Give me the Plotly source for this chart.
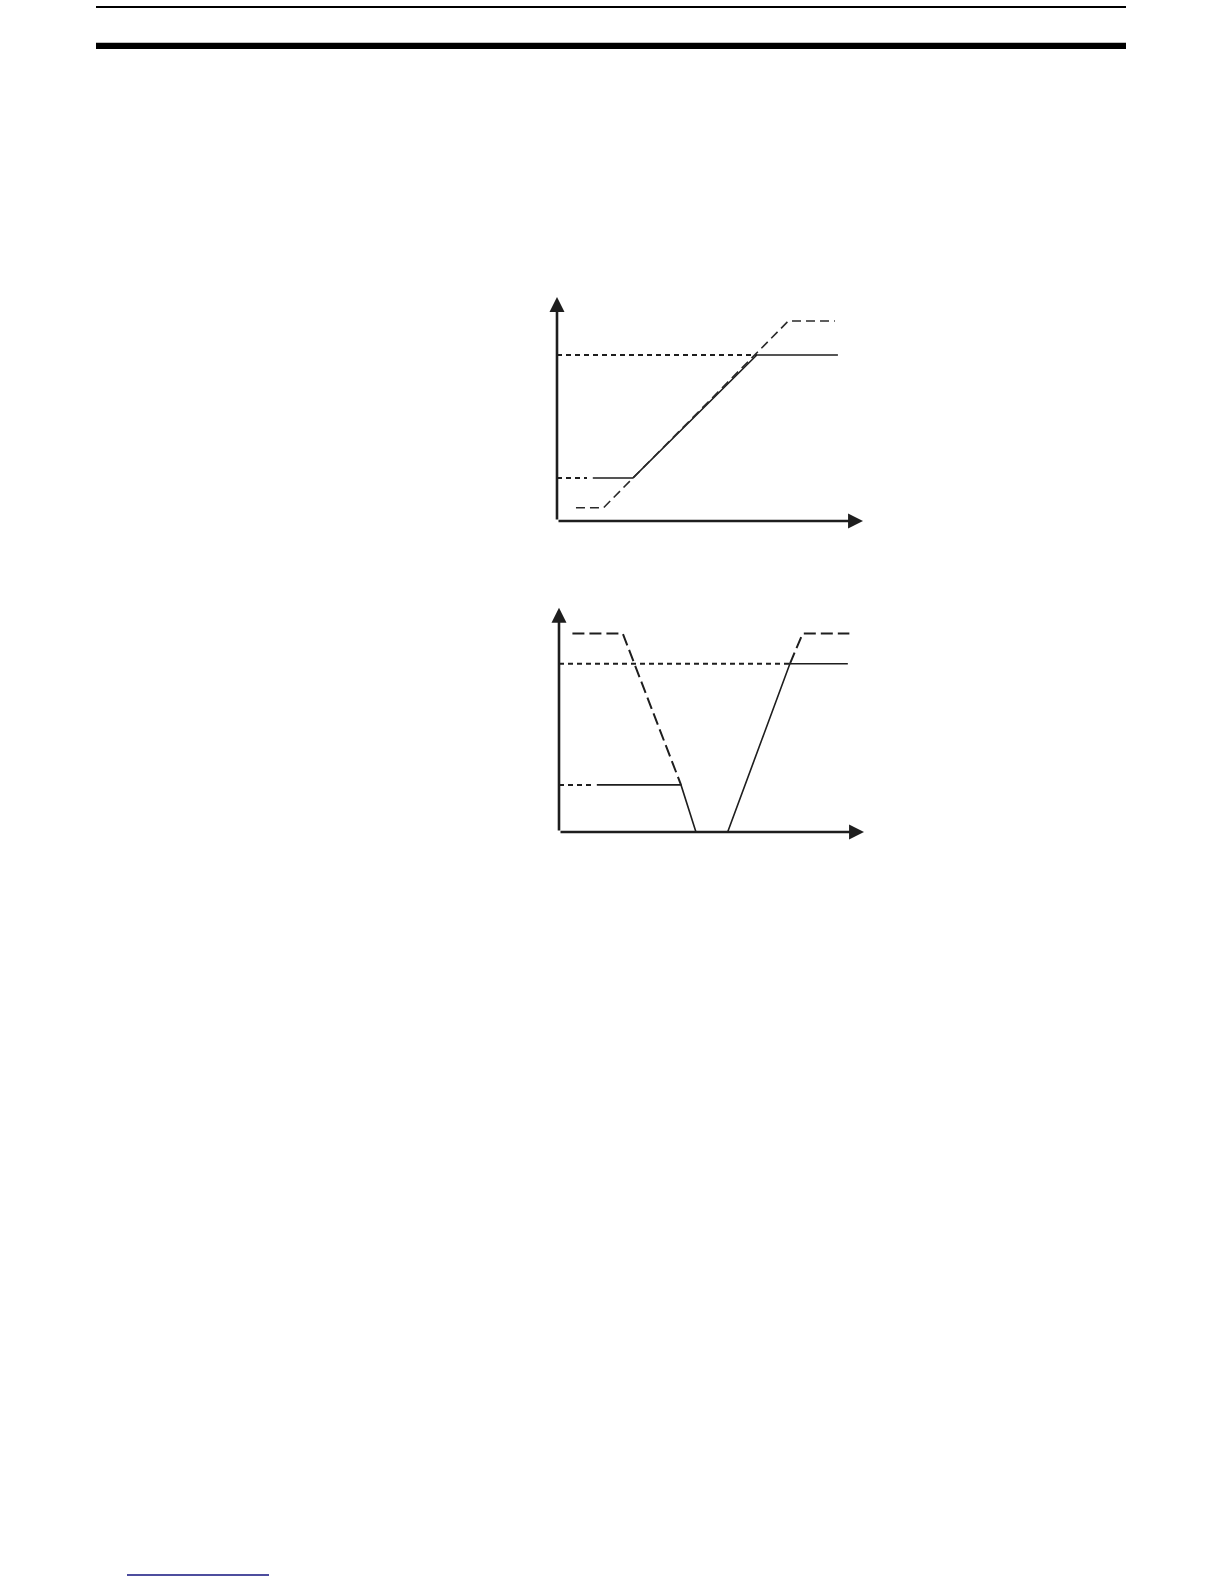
import plotly.graph_objects as go

# ---------------- data (axis units 0..100) ----------------
# Upper diagram
top_ref_high_x = [0, 65.3]
top_ref_high_y = [74.1, 74.1]
top_ref_low_x = [0, 9.8]
top_ref_low_y = [19.2, 19.2]
top_solid_x = [11.7, 24.8, 65.3, 91.8]
top_solid_y = [19.2, 19.2, 74.1, 74.1]
top_dashed_x = [6.2, 15.2, 75.6, 90.8]
top_dashed_y = [5.9, 5.9, 89.3, 89.3]

# Lower diagram
bot_ref_high_x = [0, 75.7]
bot_ref_high_y = [75.0, 75.0]
bot_ref_low_x = [0, 10.7]
bot_ref_low_y = [21.0, 21.0]
bot_solid_x = [12.4, 40.0, 44.9, 55.3, 75.7, 94.7]
bot_solid_y = [21.0, 21.0, 0, 0, 75.0, 75.0]
bot_dashed_left_x = [4.4, 20.9, 40.0]
bot_dashed_left_y = [88.5, 88.5, 21.0]
bot_dashed_right_x = [75.7, 79.9, 95.2]
bot_dashed_right_y = [75.0, 88.5, 88.5]

W, H = 1224, 1584
INK = "#1e1e1e"

fig = go.Figure()

def add(x, y, xa, ya, dash, width, color=INK):
    fig.add_trace(go.Scatter(x=x, y=y, xaxis=xa, yaxis=ya, mode="lines",
                             line=dict(color=color, width=width, dash=dash),
                             hoverinfo="skip", showlegend=False))

# upper diagram traces
add(top_ref_high_x, top_ref_high_y, "x", "y", "5px,4px", 2)
add(top_ref_low_x, top_ref_low_y, "x", "y", "5px,4px", 2)
add(top_solid_x, top_solid_y, "x", "y", "solid", 1.6)
add(top_dashed_x, top_dashed_y, "x", "y", "9px,5px", 1.6, "#2a2a2a")

# lower diagram traces
add(bot_ref_high_x, bot_ref_high_y, "x2", "y2", "5px,4px", 2)
add(bot_ref_low_x, bot_ref_low_y, "x2", "y2", "5px,4px", 2)
add(bot_solid_x, bot_solid_y, "x2", "y2", "solid", 1.6)
add(bot_dashed_left_x, bot_dashed_left_y, "x2", "y2", "12px,5px", 2)
add(bot_dashed_right_x, bot_dashed_right_y, "x2", "y2", "12px,5px", 2)

def px_x(p):
    return p / W

def px_y(p):
    return 1 - p / H

ax_common = dict(visible=False, range=[0, 100], fixedrange=True)
fig.update_layout(
    width=W, height=H,
    margin=dict(l=0, r=0, t=0, b=0),
    paper_bgcolor="white", plot_bgcolor="rgba(0,0,0,0)",
    xaxis=dict(domain=[px_x(557), px_x(863)], anchor="y", **ax_common),
    yaxis=dict(domain=[px_y(521), px_y(297)], anchor="x", **ax_common),
    xaxis2=dict(domain=[px_x(559), px_x(864)], anchor="y2", **ax_common),
    yaxis2=dict(domain=[px_y(832), px_y(607.7)], anchor="x2", **ax_common),
)

# axes with arrowheads
annos = []
for xr, yr in (("x", "y"), ("x2", "y2")):
    for (tx, ty) in ((100, 0), (0, 100)):
        annos.append(dict(x=tx, y=ty, ax=0, ay=0, xref=xr, yref=yr,
                          axref=xr, ayref=yr, text="", showarrow=True,
                          arrowhead=2, arrowsize=1.15, arrowwidth=2.6,
                          arrowcolor=INK, standoff=0, startstandoff=0))
fig.update_layout(annotations=annos)

# page rules (header and footer)
shapes = [
    dict(type="line", xref="paper", yref="paper", x0=px_x(96), x1=px_x(1126),
         y0=px_y(7), y1=px_y(7), line=dict(color="black", width=2)),
    dict(type="line", xref="paper", yref="paper", x0=px_x(96), x1=px_x(1126),
         y0=px_y(45.8), y1=px_y(45.8), line=dict(color="black", width=6.3)),
    dict(type="line", xref="paper", yref="paper", x0=px_x(127), x1=px_x(269),
         y0=px_y(1575), y1=px_y(1575), line=dict(color="#12127e", width=1.5)),
]
fig.update_layout(shapes=shapes)

fig.write_html(
    "out.html",
    config={"displayModeBar": False, "staticPlot": True},
    post_script="document.body.style.margin='0';document.body.style.overflow='hidden';",
)
